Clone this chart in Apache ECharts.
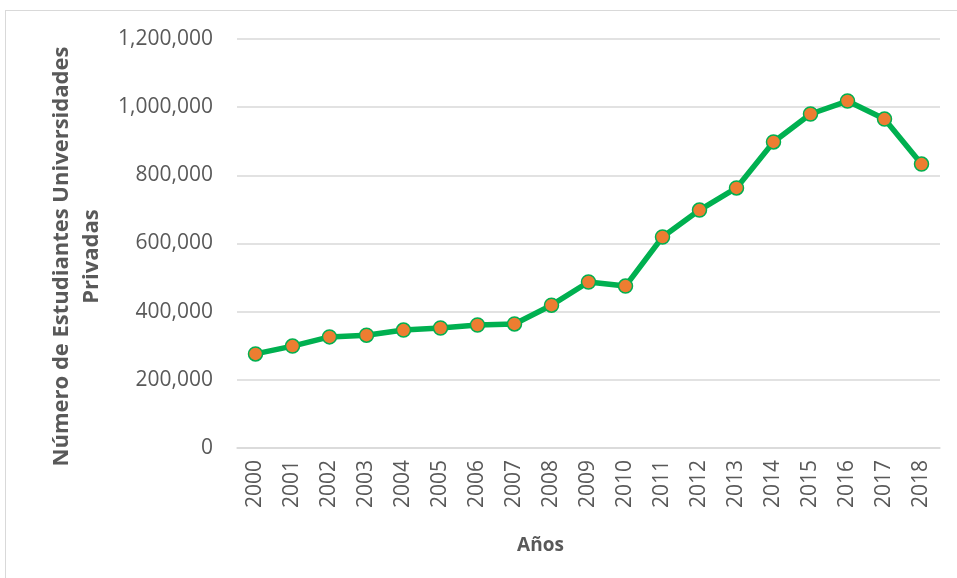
<!DOCTYPE html>
<html>
<head>
<meta charset="utf-8">
<script src="https://cdn.jsdelivr.net/npm/echarts@6/dist/echarts.min.js"></script>
<style>
  html, body { margin: 0; padding: 0; background: #fff; }
  #frame { position: absolute; left: 5px; top: 10px; width: 960px; height: 580px; border: 1px solid #d9d9d9; box-sizing: border-box; }
  #chart { width: 957px; height: 578px; position: absolute; left: 0; top: 0; }
</style>
</head>
<body>
<div id="frame"></div>
<div id="chart"></div>
<script>
// Years and private university enrolment
const years = ['2000','2001','2002','2003','2004','2005','2006','2007','2008','2009',
               '2010','2011','2012','2013','2014','2015','2016','2017','2018'];
const students = [276000, 299000, 326000, 331000, 346000, 352000, 361000, 364000, 419000, 487000,
                  475000, 619000, 698000, 763000, 898000, 980000, 1018000, 965000, 833000];
const yTicks = { min: 0, max: 1200000, interval: 200000 };

const font = "'Open Sans', 'Noto Sans', sans-serif";
const chart = echarts.init(document.getElementById('chart'));
chart.setOption({
  animation: false,
  grid: { left: 237, right: 17, top: 39, bottom: 130 },
  xAxis: {
    type: 'category',
    data: years,
    boundaryGap: true,
    axisLine: { lineStyle: { color: '#d9d9d9', width: 1.5 } },
    axisTick: { show: false },
    axisLabel: { rotate: 90, color: '#595959', fontSize: 21, fontFamily: font, margin: 12 },
    name: 'Años',
    nameLocation: 'middle',
    nameGap: 88,
    nameTextStyle: { color: '#595959', fontSize: 19, fontWeight: 'bold', fontFamily: font, padding: [0, 96, 0, 0] }
  },
  yAxis: {
    type: 'value',
    min: yTicks.min, max: yTicks.max, interval: yTicks.interval,
    axisLine: { show: false },
    axisTick: { show: false },
    splitLine: { lineStyle: { color: '#d9d9d9', width: 1.5 } },
    axisLabel: {
      color: '#595959', fontSize: 21, fontFamily: font, margin: 24,
      formatter: v => v.toLocaleString('en-US')
    },
    name: 'Número de Estudiantes Universidades\nPrivadas',
    nameLocation: 'middle',
    nameGap: 129,
    nameTextStyle: { color: '#595959', fontSize: 22, fontWeight: 'bold', fontFamily: font, lineHeight: 30, padding: [0, 26, 0, 0] }
  },
  series: [{
    type: 'line',
    data: students,
    symbol: 'circle',
    symbolSize: 14,
    lineStyle: { color: '#00b050', width: 5.5 },
    itemStyle: { color: '#ed7d31', borderColor: '#00b050', borderWidth: 1.5 },
    emphasis: { disabled: true }
  }]
});
</script>
</body>
</html>
